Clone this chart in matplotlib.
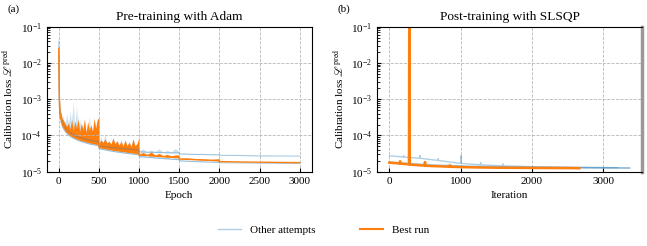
import matplotlib
matplotlib.use("Agg")
import matplotlib.pyplot as plt
import numpy as np
from matplotlib.lines import Line2D

plt.rcParams["font.family"] = "serif"
plt.rcParams["font.serif"] = ["Liberation Serif"]
plt.rcParams["mathtext.fontset"] = "stix"
plt.rcParams["font.size"] = 8

# all losses below are in units of 1e-5
unit = 1e-5

# ---- (a) pre-training with Adam ----
epochs = [0, 3, 6, 10, 15, 20, 30, 40, 50, 60, 80, 100, 120, 140, 160, 180, 200, 220,
          240, 260, 280, 300, 320, 340, 360, 380, 400, 420, 440, 460, 480, 499,
          500, 525, 550, 575, 600, 625, 650, 675, 700, 725, 750, 775, 800, 825, 850,
          875, 900, 925, 950, 975, 999,
          1000, 1050, 1100, 1150, 1200, 1250, 1300, 1350, 1400, 1450, 1499,
          1500, 1600, 1700, 1800, 1900, 1999,
          2000, 2250, 2500, 2750, 3000]

best_lo = [2500, 600, 150, 60, 42, 35, 27, 22, 19, 17, 14.5, 12.5, 11.5, 10.5, 9.8, 9.2, 8.7, 8.3,
           8.0, 7.7, 7.4, 7.2, 7.0, 6.8, 6.6, 6.4, 6.3, 6.1, 6.0, 5.9, 5.8, 5.7,
           4.8, 4.6, 4.5, 4.4, 4.3, 4.2, 4.1, 4.0, 3.9, 3.85, 3.8, 3.7, 3.65, 3.6, 3.5,
           3.45, 3.4, 3.35, 3.3, 3.25, 3.2,
           2.9, 2.85, 2.8, 2.75, 2.7, 2.65, 2.6, 2.55, 2.5, 2.48, 2.45,
           2.25, 2.2, 2.15, 2.1, 2.05, 2.0,
           1.9, 1.86, 1.83, 1.8, 1.78]
best_hi = [2500, 900, 300, 90, 60, 48, 40, 30, 28, 26, 20, 18, 22, 15, 27, 14, 25, 16,
           28, 13, 22, 15, 29, 12, 24, 14, 20, 13, 30, 16, 28, 30,
           6, 7.5, 6.5, 8, 6.2, 7, 5.8, 8.5, 6, 7.2, 5.5, 6.8, 5.2, 7.5, 5.3,
           6.5, 5, 8, 5.2, 6, 9,
           3.1, 3.4, 3.0, 3.5, 2.9, 3.2, 2.8, 3.0, 2.75, 2.9, 2.9,
           2.35, 2.4, 2.3, 2.25, 2.2, 2.3,
           1.9, 1.86, 1.83, 1.8, 1.78]

other1_lo = [4000, 800, 200, 70, 48, 38, 30, 25, 21, 19, 16, 14, 13, 12, 11.2, 10.5, 10, 9.6,
             9.2, 8.9, 8.6, 8.3, 8.1, 7.9, 7.7, 7.5, 7.3, 7.2, 7.0, 6.9, 6.8, 6.7,
             5.2, 5.1, 5.0, 4.9, 4.8, 4.75, 4.7, 4.6, 4.55, 4.5, 4.45, 4.4, 4.35, 4.3, 4.25,
             4.2, 4.15, 4.1, 4.05, 4.0, 4.0,
             3.5, 3.48, 3.45, 3.43, 3.4, 3.38, 3.36, 3.34, 3.32, 3.3, 3.3,
             3.1, 3.05, 3.0, 2.98, 2.95, 2.93,
             2.85, 2.8, 2.75, 2.72, 2.7]
other1_hi = [4000, 1500, 400, 120, 70, 50, 40, 32, 35, 26, 22, 40, 16, 50, 14, 95, 13, 70,
             12, 30, 11, 16, 10, 14, 11, 35, 9, 12, 9, 18, 9, 40,
             6.5, 9, 6, 11, 6, 7, 5.5, 9, 5.2, 6, 5, 8, 5, 6, 4.8,
             7, 4.7, 8.5, 4.6, 5.5, 4.5,
             3.7, 4.3, 3.6, 4.0, 3.6, 4.3, 3.5, 3.9, 3.5, 4.4, 3.6,
             3.2, 3.2, 3.15, 3.1, 3.05, 3.05,
             2.9, 2.85, 2.8, 2.75, 2.72]

other2_lo = [1800, 450, 120, 52, 37, 30, 23.5, 19, 16.5, 15, 12.8, 11.2, 10.3, 9.5, 8.9, 8.4, 8.0, 7.6,
             7.3, 7.0, 6.8, 6.6, 6.4, 6.2, 6.0, 5.85, 5.7, 5.6, 5.5, 5.4, 5.3, 5.2,
             4.3, 4.2, 4.1, 4.0, 3.9, 3.8, 3.72, 3.64, 3.56, 3.5, 3.43, 3.37, 3.31, 3.25, 3.2,
             3.15, 3.1, 3.05, 3.0, 2.96, 2.92,
             2.6, 2.55, 2.5, 2.45, 2.4, 2.35, 2.3, 2.26, 2.22, 2.18, 2.15,
             2.0, 1.95, 1.9, 1.87, 1.84, 1.82,
             1.78, 1.75, 1.72, 1.7, 1.68]
other2_hi = [1800, 600, 200, 70, 45, 35, 28, 22, 26, 17, 25, 13, 30, 11, 45, 10, 20, 9,
             38, 8.5, 14, 8, 18, 7.5, 12, 7, 16, 6.8, 11, 6.5, 14, 6.3,
             4.8, 5.5, 4.6, 6, 4.4, 5, 4.2, 5.5, 4.0, 4.6, 3.9, 5, 3.7, 4.4, 3.6,
             4.2, 3.5, 4.2, 3.4, 3.9, 3.3,
             2.75, 2.85, 2.65, 2.75, 2.55, 2.65, 2.45, 2.55, 2.35, 2.45, 2.3,
             2.1, 2.05, 2.0, 1.96, 1.92, 1.9,
             1.8, 1.76, 1.73, 1.71, 1.69]

# ---- (b) post-training with SLSQP ----
slsqp_best_iter = [0, 100, 145, 150, 155, 200, 275, 280, 285, 350, 450, 495, 500, 505, 600,
                   700, 845, 850, 855, 1000, 1250, 1500, 2000, 2500, 2664]
slsqp_best_loss = [1.78, 1.72, 1.69, 1.95, 1.68, 1.64, 1.6, 100000, 1.58, 1.54, 1.49, 1.47,
                   1.85, 1.46, 1.43, 1.41, 1.37, 1.5, 1.37, 1.34, 1.31, 1.29, 1.27, 1.26, 1.25]

slsqp_other1_iter = [0, 195, 200, 205, 425, 430, 435, 680, 685, 690, 1000, 1005, 1010,
                     1275, 1280, 1285, 1585, 1590, 1595, 2000, 2500, 3000, 3370]
slsqp_other1_loss = [2.75, 2.55, 2.8, 2.54, 2.35, 2.8, 2.34, 2.05, 2.3, 2.04, 1.7, 2.8, 1.69,
                     1.55, 1.8, 1.55, 1.45, 1.65, 1.45, 1.38, 1.33, 1.3, 1.28]
slsqp_other2_iter = [0, 500, 1000, 1500, 2000, 2500, 3000, 3370]
slsqp_other2_loss = [1.72, 1.5, 1.38, 1.32, 1.29, 1.27, 1.26, 1.25]
slsqp_other3_iter = [0, 600, 1200, 2000, 2800, 3200]
slsqp_other3_loss = [1.85, 1.55, 1.42, 1.33, 1.3, 1.29]

blue = "#1f77b4"
orange = "#ff7f0e"


def style_axis(ax):
    ax.set_yscale("log")
    ax.set_ylim(1e-5, 1e-1)
    ax.grid(True, which="major", ls="--", color="#b8b8b8", lw=0.6)
    ax.tick_params(which="both", direction="in", top=False, right=False)
    ax.tick_params(which="major", length=3)
    ax.tick_params(which="minor", length=1.8)
    ax.set_ylabel(r"Calibration loss $\mathscr{L}^{\mathrm{pred}}$")


fig = plt.figure(figsize=(6.47, 2.46), dpi=100)
ax1 = fig.add_axes([0.0722, 0.302, 0.4096, 0.5895])
ax2 = fig.add_axes([0.5832, 0.302, 0.4086, 0.5895])

x = np.array(epochs)
for lo, hi in [(other1_lo, other1_hi), (other2_lo, other2_hi)]:
    lo = np.array(lo) * unit
    hi = np.array(hi) * unit
    ax1.fill_between(x, lo, hi, color=blue, alpha=0.22, lw=0)
    ax1.plot(x, lo, color=blue, alpha=0.35, lw=0.8)
ax1.fill_between(x, np.array(best_lo) * unit, np.array(best_hi) * unit, color=orange, lw=0)
ax1.plot(x, np.array(best_lo) * unit, color=orange, lw=1.0)
ax1.set_xlabel("Epoch")
ax1.set_title("Pre-training with Adam", pad=5)
style_axis(ax1)

for it, loss in [(slsqp_other1_iter, slsqp_other1_loss),
                 (slsqp_other2_iter, slsqp_other2_loss),
                 (slsqp_other3_iter, slsqp_other3_loss)]:
    ax2.plot(it, np.array(loss) * unit, color=blue, alpha=0.35, lw=1.0)
ax2.plot(slsqp_best_iter, np.array(slsqp_best_loss) * unit, color=orange, lw=1.8)
ax2.set_xlabel("Iteration")
ax2.set_title("Post-training with SLSQP", pad=5)
style_axis(ax2)
ax2.spines["right"].set_color("#999999")
ax2.spines["right"].set_linewidth(2.5)

fig.text(0.011, 0.963, "(a)", ha="left", va="center")
fig.text(0.522, 0.963, "(b)", ha="left", va="center")

handles = [Line2D([], [], color=blue, alpha=0.35, lw=1.0),
           Line2D([], [], color=orange, lw=1.5)]
fig.legend(handles, ["Other attempts", "Best run"], loc="center",
           bbox_to_anchor=(0.5, 0.065), ncol=2, frameon=False,
           columnspacing=4.0, handlelength=2.1, handletextpad=0.8)

fig.savefig("out.png", dpi=100)
